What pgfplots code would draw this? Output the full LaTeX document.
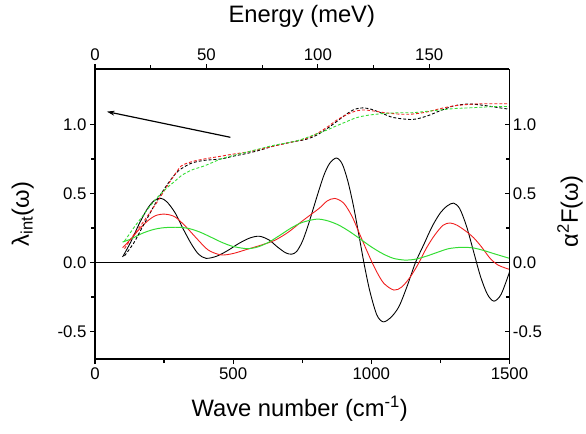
\documentclass[border=0pt]{standalone}
\usepackage{fontspec}
\setmainfont{Liberation Sans}
\usepackage{pgfplots}
\pgfplotsset{compat=1.18}
\usetikzlibrary{arrows.meta}
\definecolor{cred}{HTML}{F01E1E}
\definecolor{cgreen}{HTML}{33DD33}

\pgfplotsset{
  frame/.style={
    width=419pt, height=293pt, scale only axis,
    ymin=-0.7, ymax=1.4,
    ytick={-0.5,0,0.5,1}, minor tick num=1,
    tick label style={font=\fontsize{17}{20}\selectfont},
    label style={font=\fontsize{24}{28}\selectfont},
    /pgf/number format/assume math mode=true,
    /pgf/number format/set thousands separator={},
    yticklabel style={/pgf/number format/.cd, fixed, fixed zerofill, precision=1},
    axis line style={line width=1.6pt},
    major tick style={line width=1.2pt, black},
    minor tick style={line width=1.2pt, black},
    major tick length=5pt, minor tick length=4pt,
  },
}

\begin{document}
\begin{tikzpicture}
\begin{axis}[frame, name=main,
  xmin=0, xmax=1500, xtick={0,500,1000,1500},
  axis x line*=bottom, axis y line*=left, tick align=outside,
  xlabel={Wave number (cm\textsuperscript{-1})},
  ylabel={λ\textsubscript{int}(ω)},
  xlabel style={at={(axis description cs:0.494,-0.171)}, anchor=center},
  ylabel style={at={(axis description cs:-0.174,0.5)}, anchor=center},
]
\addplot[black, line width=1.7pt, forget plot] coordinates {(0,0) (1500,0)};

% alpha^2 F, black
\addplot[black, line width=0.9pt, smooth] coordinates {
(100,0.04) (130,0.15) (160,0.28) (190,0.39) (215,0.45) (238,0.465) (260,0.44)
(290,0.36) (320,0.24) (350,0.13) (375,0.06) (402,0.03) (440,0.045) (480,0.086)
(520,0.137) (560,0.177) (595,0.19) (630,0.163) (660,0.113) (690,0.07) (712,0.06)
(730,0.08) (750,0.15) (770,0.26) (790,0.39) (810,0.52) (830,0.64) (850,0.72)
(874,0.757) (895,0.713) (915,0.59) (935,0.414) (955,0.20) (975,-0.02) (995,-0.21)
(1020,-0.38) (1043,-0.43) (1070,-0.40) (1100,-0.32) (1130,-0.17) (1160,0.0)
(1190,0.13) (1220,0.26) (1250,0.36) (1275,0.41) (1298,0.43) (1320,0.39)
(1345,0.26) (1370,0.08) (1395,-0.10) (1420,-0.23) (1444,-0.28) (1470,-0.23)
(1500,-0.07)};
% alpha^2 F, red
\addplot[cred, line width=0.9pt, smooth] coordinates {
(100,0.107) (130,0.17) (160,0.24) (190,0.30) (220,0.34) (253,0.35) (290,0.33)
(330,0.257) (370,0.17) (410,0.09) (456,0.055) (500,0.065) (550,0.095) (600,0.125)
(650,0.16) (700,0.22) (750,0.30) (790,0.36) (813,0.395) (840,0.445) (868,0.464)
(900,0.43) (930,0.335) (957,0.21) (985,0.08) (1015,-0.05) (1045,-0.15) (1082,-0.20)
(1110,-0.178) (1140,-0.108) (1170,-0.01) (1200,0.106) (1230,0.20) (1260,0.27)
(1285,0.286) (1310,0.27) (1340,0.23) (1370,0.18) (1400,0.11) (1430,0.03)
(1460,-0.02) (1500,-0.05)};
% alpha^2 F, green
\addplot[cgreen, line width=1pt, smooth] coordinates {
(100,0.148) (130,0.17) (170,0.21) (210,0.238) (250,0.252) (301,0.255) (340,0.246)
(380,0.22) (420,0.183) (460,0.145) (500,0.116) (551,0.10) (590,0.113) (630,0.148)
(670,0.198) (710,0.25) (750,0.29) (802,0.314) (840,0.303) (880,0.273) (920,0.226)
(960,0.17) (1000,0.113) (1040,0.065) (1080,0.03) (1124,0.017) (1160,0.024)
(1200,0.046) (1240,0.074) (1280,0.10) (1327,0.11) (1370,0.105) (1410,0.085)
(1450,0.06) (1500,0.03)};

% lambda_int, black
\addplot[black, line width=0.9pt, dash pattern=on 3pt off 2pt, smooth] coordinates {
(107,0.048) (140,0.14) (170,0.25) (200,0.36) (229,0.464) (260,0.56) (290,0.64)
(313,0.68) (350,0.72) (396,0.74) (456,0.75) (500,0.77) (550,0.79) (599,0.815)
(650,0.845) (718,0.875) (760,0.89) (800,0.92) (840,0.97) (874,1.02) (910,1.075)
(940,1.11) (969,1.12) (1000,1.11) (1040,1.08) (1080,1.05) (1148,1.036) (1200,1.06)
(1250,1.10) (1300,1.135) (1351,1.148) (1400,1.14) (1450,1.125) (1500,1.11)};
% lambda_int, red
\addplot[cred, line width=0.9pt, dash pattern=on 3pt off 2pt, smooth] coordinates {
(107,0.10) (140,0.20) (170,0.28) (193,0.345) (229,0.45) (260,0.55) (290,0.64)
(313,0.70) (350,0.73) (396,0.75) (456,0.77) (500,0.785) (550,0.80) (599,0.82)
(650,0.845) (718,0.875) (760,0.895) (800,0.93) (840,0.98) (874,1.03) (910,1.07)
(940,1.095) (969,1.105) (1000,1.10) (1050,1.085) (1100,1.075) (1148,1.075)
(1200,1.09) (1250,1.115) (1300,1.135) (1351,1.145) (1400,1.15) (1450,1.15)
(1500,1.15)};
% lambda_int, green
\addplot[cgreen, line width=0.9pt, dash pattern=on 3pt off 2pt, smooth] coordinates {
(107,0.155) (140,0.25) (170,0.33) (200,0.41) (230,0.48) (260,0.54) (290,0.59)
(313,0.63) (350,0.67) (396,0.70) (456,0.75) (500,0.775) (550,0.80) (599,0.825)
(650,0.85) (718,0.875) (760,0.90) (800,0.93) (840,0.96) (874,0.99) (910,1.02)
(940,1.045) (969,1.06) (1000,1.07) (1050,1.08) (1100,1.085) (1148,1.085)
(1200,1.095) (1250,1.105) (1300,1.115) (1351,1.12) (1400,1.125) (1450,1.13)
(1500,1.13)};

\draw[black, line width=1.2pt, -{Stealth[length=8pt,width=5pt]}]
  (axis cs:490,0.907) -- (axis cs:43,1.093);
\end{axis}

\begin{axis}[frame,
  xmin=0, xmax=185.98, xtick={0,50,100,150},
  axis x line*=top, axis y line*=right,
  xtick align=outside, ytick align=inside,
  xlabel={Energy (meV)},
  ylabel={α\textsuperscript{2}F(ω)},
  xlabel style={at={(axis description cs:0.499,1.181)}, anchor=center},
  ylabel style={at={(axis description cs:1.146,0.51)}, anchor=center},
]
\end{axis}

\path ([shift={(-96pt,-75pt)}]main.south west) rectangle ([shift={(71pt,70pt)}]main.north east);
\end{tikzpicture}
\end{document}
